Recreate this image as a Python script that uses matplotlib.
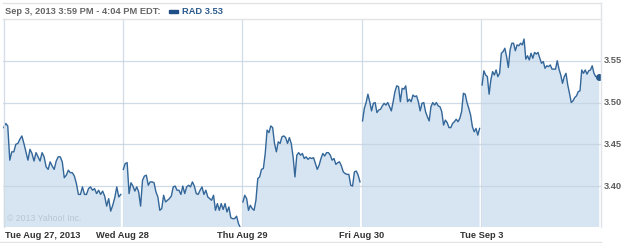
import numpy as np
import matplotlib
matplotlib.use("Agg")
import matplotlib.pyplot as plt
from matplotlib.patches import Rectangle

# ---------------- data ----------------
day_labels = ["Tue Aug 27, 2013", "Wed Aug 28", "Thu Aug 29", "Fri Aug 30", "Tue Sep 3"]

aug27 = [3.470, 3.475, 3.472, 3.431, 3.441, 3.441, 3.450, 3.451, 3.456, 3.460, 3.451, 3.441,
         3.431, 3.444, 3.439, 3.430, 3.440, 3.435, 3.430, 3.440, 3.435, 3.423, 3.420, 3.429,
         3.424, 3.420, 3.430, 3.435, 3.435, 3.429, 3.410, 3.413, 3.419, 3.416, 3.416, 3.412,
         3.403, 3.390, 3.390, 3.399, 3.390, 3.390, 3.397, 3.399, 3.395, 3.397, 3.391, 3.395,
         3.390, 3.394, 3.388, 3.376, 3.385, 3.370, 3.377, 3.386, 3.399, 3.387, 3.390]
aug28 = [3.420, 3.427, 3.428, 3.391, 3.404, 3.400, 3.394, 3.399, 3.393, 3.376, 3.407, 3.412,
         3.413, 3.401, 3.405, 3.405, 3.404, 3.393, 3.387, 3.371, 3.373, 3.389, 3.381, 3.383,
         3.385, 3.388, 3.399, 3.400, 3.395, 3.395, 3.390, 3.400, 3.391, 3.399, 3.401, 3.399,
         3.405, 3.400, 3.391, 3.390, 3.395, 3.399, 3.390, 3.395, 3.387, 3.385, 3.383, 3.389,
         3.371, 3.379, 3.371, 3.379, 3.372, 3.379, 3.369, 3.375, 3.362, 3.361, 3.361, 3.364,
         3.355, 3.350]
aug29 = [3.381, 3.389, 3.385, 3.371, 3.377, 3.373, 3.371, 3.383, 3.409, 3.411, 3.420, 3.421,
         3.439, 3.467, 3.464, 3.472, 3.470, 3.451, 3.441, 3.453, 3.451, 3.459, 3.460, 3.458,
         3.451, 3.458, 3.451, 3.435, 3.411, 3.437, 3.440, 3.437, 3.439, 3.433, 3.435, 3.432,
         3.434, 3.433, 3.434, 3.427, 3.420, 3.425, 3.433, 3.439, 3.436, 3.440, 3.440, 3.437,
         3.431, 3.433, 3.426, 3.428, 3.429, 3.424, 3.417, 3.415, 3.414, 3.414, 3.401, 3.400,
         3.417, 3.418, 3.413, 3.405]
aug30 = [3.478, 3.493, 3.500, 3.510, 3.501, 3.490, 3.499, 3.500, 3.488, 3.491, 3.492, 3.496,
         3.499, 3.497, 3.500, 3.495, 3.490, 3.501, 3.513, 3.520, 3.519, 3.501, 3.517, 3.516,
         3.520, 3.501, 3.504, 3.501, 3.509, 3.507, 3.508, 3.501, 3.490, 3.499, 3.500, 3.489,
         3.483, 3.478, 3.495, 3.500, 3.497, 3.500, 3.496, 3.495, 3.489, 3.473, 3.479, 3.476,
         3.470, 3.470, 3.475, 3.477, 3.480, 3.477, 3.481, 3.489, 3.511, 3.510, 3.500, 3.493,
         3.485, 3.471, 3.465, 3.469, 3.461, 3.469]
sep03 = [3.521, 3.538, 3.533, 3.531, 3.510, 3.527, 3.537, 3.533, 3.539, 3.531, 3.535, 3.559,
         3.561, 3.565, 3.555, 3.542, 3.563, 3.571, 3.571, 3.562, 3.569, 3.568, 3.571, 3.569,
         3.576, 3.552, 3.556, 3.551, 3.559, 3.553, 3.560, 3.558, 3.560, 3.553, 3.547, 3.549,
         3.541, 3.544, 3.543, 3.545, 3.540, 3.540, 3.540, 3.550, 3.540, 3.533, 3.523, 3.531,
         3.535, 3.521, 3.511, 3.500, 3.502, 3.506, 3.508, 3.513, 3.514, 3.539, 3.535, 3.539,
         3.534, 3.538, 3.539, 3.544, 3.535, 3.531, 3.531, 3.530]
days = [aug27, aug28, aug29, aug30, sep03]

y_ticks = [3.40, 3.45, 3.50, 3.55]
header_text = "Sep 3, 2013 3:59 PM - 4:04 PM EDT:"
series_name = "RAD"
last_value = 3.53
copyright_text = "\u00a9 2013 Yahoo! Inc."

# ---------------- style ----------------
W, H = 625, 243
LINE = "#336699"
FILL = "#d6e5f1"
GRID_V = "#d3dde7"
GRID_H = "#c4d3e1"
FONT = "Liberation Sans"
FS = 6.7

fig = plt.figure(figsize=(W / 100, H / 100), dpi=100)
fig.patch.set_facecolor("white")

def fx(px):
    return px / W

def fy(py):
    return 1 - py / H

ax = fig.add_axes([fx(3), fy(227), fx(601) - fx(3), fy(19) - fy(227)])
ax.set_xlim(0, 5)
ax.set_ylim(3.351, 3.600)
for s in ax.spines.values():
    s.set_visible(False)
ax.set_xticks([])
ax.set_yticks([])

# vertical day separators (under the fill)
for d in range(1, 5):
    ax.axvline(d, color=GRID_V, lw=0.9, zorder=0)

# per-day fill and line
for d, vals in enumerate(days):
    xs = d + np.linspace(0.006, 0.985, len(vals))
    ax.fill_between(xs, 3.0, vals, color=FILL, lw=0, zorder=1)
    ax.plot(xs, vals, color=LINE, lw=1.0, zorder=3, solid_joinstyle="round")
    if d == len(days) - 1:
        ax.plot(xs[-1], vals[-1], "o", ms=4, color="#2a5a8c", zorder=4)

# horizontal grid on top of fill
for t in y_ticks:
    ax.axhline(t, color=GRID_H, lw=0.9, alpha=0.8, zorder=2)
    fig.text(fx(604), ax.transData.transform((0, t))[1] / H, f"{t:.2f}",
             fontsize=FS, fontweight="bold", color="#5e5e5e", family=FONT,
             va="center", ha="left")

# copyright
ax.text(0.035, 3.356, copyright_text, fontsize=6.3, color="#b9c6d2", family=FONT,
        va="bottom", ha="left", zorder=2)

# frame lines
fig.add_artist(plt.Line2D([fx(3), fx(601)], [fy(3.5), fy(3.5)], color="#e3e3e3", lw=1))
fig.add_artist(plt.Line2D([fx(3), fx(601)], [fy(19), fy(19)], color="#e3e3e3", lw=1))
fig.add_artist(plt.Line2D([fx(3.5), fx(3.5)], [fy(19), fy(227)], color=GRID_V, lw=0.9))
fig.add_artist(plt.Line2D([fx(601), fx(601)], [fy(3.5), fy(227)], color="#dfe5eb", lw=1))
fig.add_artist(plt.Line2D([fx(0), fx(601)], [fy(241.5), fy(241.5)], color="#e3e3e3", lw=1))

# header
fig.text(fx(5), fy(11.5), header_text, fontsize=FS, fontweight="bold", color="#666666",
         family=FONT, va="center", ha="left")
fig.add_artist(Rectangle((fx(169), fy(13)), fx(9), fy(10) - fy(13), color="#1f4f86",
                         transform=fig.transFigure))
fig.text(fx(182), fy(11.5), f"{series_name} {last_value:.2f}", fontsize=FS,
         fontweight="bold", color="#2a5a8c", family=FONT, va="center", ha="left")

# x labels
for d, lab in enumerate(day_labels):
    xpix = ax.transData.transform((d, 0))[0] / W
    if d == 0:
        fig.text(fx(5), fy(235), lab, fontsize=FS, fontweight="bold", color="#333333",
                 family=FONT, va="center", ha="left")
    else:
        fig.text(xpix, fy(235), lab, fontsize=FS, fontweight="bold", color="#333333",
                 family=FONT, va="center", ha="center")

fig.savefig("out.png", dpi=100, facecolor="white")
